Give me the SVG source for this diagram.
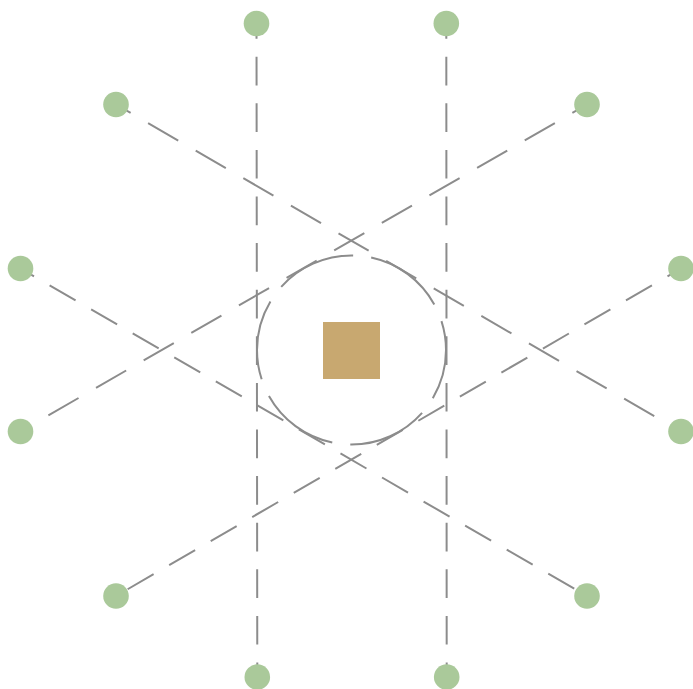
<svg xmlns="http://www.w3.org/2000/svg" width="693" height="689" viewBox="0 0 693 689">
  <style>
    .edge { stroke: #8c8c8c; stroke-width: 2; fill: none; }
    .v { stroke-dasharray: 28.7 17.9; stroke-dashoffset: 13.4; }
    .dA { stroke-dasharray: 34.8 20.2; stroke-dashoffset: 17.9; }
    .dB { stroke-dasharray: 30 18; stroke-dashoffset: 14.4; }
    .ring { stroke: #8c8c8c; stroke-width: 2; fill: none; stroke-dasharray: 80.8 18.15; stroke-dashoffset: 30.3; }
    .leaf { fill: #aac99a; }
    .hub { fill: #c8a870; }
  </style>
  <rect width="693" height="689" fill="#ffffff"/>
  <g id="connectors">
    <line class="edge v" x1="256.5" y1="23.5" x2="257.3" y2="677"/>
    <line class="edge v" x1="446.3" y1="23.5" x2="446.7" y2="677"/>
    <line class="edge dA" x1="116" y1="104.5" x2="681" y2="431.5"/>
    <line class="edge dA" x1="587" y1="104.5" x2="20.5" y2="431.5"/>
    <line class="edge dB" x1="20.5" y1="268.5" x2="587" y2="596"/>
    <line class="edge dB" x1="681" y1="268.5" x2="116" y2="596"/>
  </g>
  <g id="center">
    <circle class="ring" cx="351.5" cy="350" r="94.5"/>
    <rect class="hub" x="323" y="322" width="57" height="57"/>
  </g>
  <g id="n1"><circle class="leaf" cx="256.5" cy="23.5" r="12.8"/></g>
  <g id="n2"><circle class="leaf" cx="446.3" cy="23.5" r="12.8"/></g>
  <g id="n3"><circle class="leaf" cx="116" cy="104.5" r="12.8"/></g>
  <g id="n4"><circle class="leaf" cx="587" cy="104.5" r="12.8"/></g>
  <g id="n5"><circle class="leaf" cx="20.5" cy="268.5" r="12.8"/></g>
  <g id="n6"><circle class="leaf" cx="681" cy="268.5" r="12.8"/></g>
  <g id="n7"><circle class="leaf" cx="20.5" cy="431.5" r="12.8"/></g>
  <g id="n8"><circle class="leaf" cx="681" cy="431.5" r="12.8"/></g>
  <g id="n9"><circle class="leaf" cx="116" cy="596" r="12.8"/></g>
  <g id="n10"><circle class="leaf" cx="587" cy="596" r="12.8"/></g>
  <g id="n11"><circle class="leaf" cx="257.3" cy="677" r="12.8"/></g>
  <g id="n12"><circle class="leaf" cx="446.7" cy="677" r="12.8"/></g>
</svg>
